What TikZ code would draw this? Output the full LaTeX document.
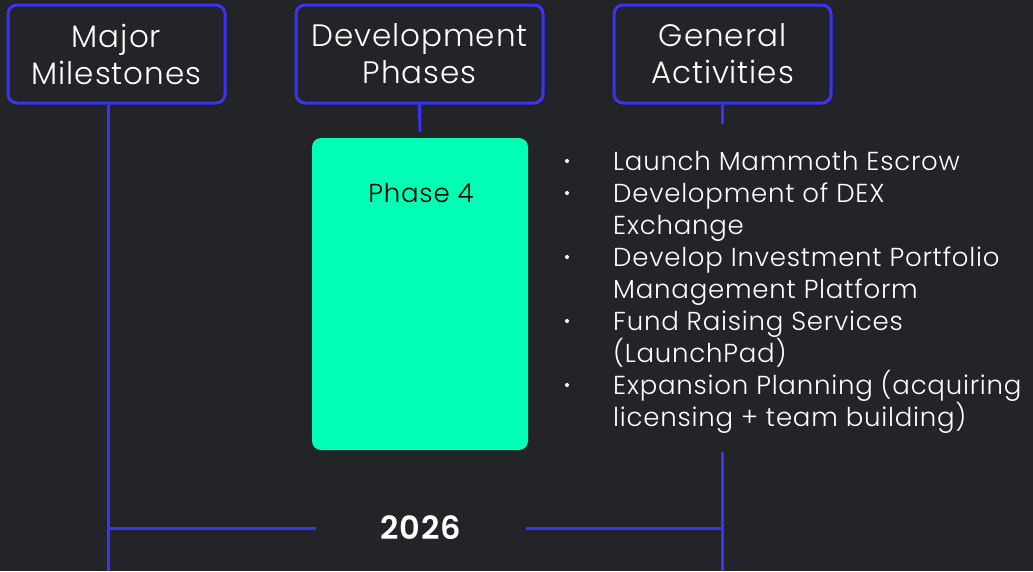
\documentclass[tikz,border=0pt]{standalone}
\usepackage{fontspec}
\setmainfont{Poppins}[UprightFont=* Light,BoldFont=* SemiBold,LetterSpace=3]
\usetikzlibrary{positioning}
\definecolor{bg}{HTML}{232427}
\definecolor{lineblue}{HTML}{3833F6}
\definecolor{mint}{HTML}{00FFB4}
\tikzset{
  head/.style={draw=lineblue,line width=3pt,rounded corners=9pt,fill=bg,text=white,
    align=center,font=\fontsize{31}{37}\selectfont,inner sep=0pt},
  link/.style={lineblue,line width=3pt},
  item/.style={text=white,anchor=base west,inner sep=0pt,font=\fontsize{26}{32}\selectfont}
}
\begin{document}
\begin{tikzpicture}[x=1pt,y=-1pt]
		\fill[bg] (0,0) rectangle (1033,571);
		\useasboundingbox (0,0) rectangle (1033,571);
		% column heads
		\node[head,minimum width=217pt,minimum height=98pt] (mile) at (116.5,54) {Major\\Milestones};
		\node[head,minimum width=247pt,minimum height=98pt] (dev) at (419.5,54) {Development\\Phases};
		\node[head,minimum width=217pt,minimum height=98pt] (gen) at (722.5,54) {General\\Activities};
		% phase block
		\node[fill=mint,rounded corners=9pt,minimum width=216pt,minimum height=312pt,inner sep=0pt] (ph4) at (420,294) {};
		\node[font=\fontsize{26}{30}\selectfont,text=black] (ph4lbl) at (421,193) {Phase 4};
		\node[text=white,font=\bfseries\fontsize{32}{36}\selectfont,minimum width=210pt,inner sep=0pt] (year) at (421,528) {2026};
		\coordinate (mbot) at (108,571);
		\coordinate (gbot) at (722,571);
		\coordinate (gtop) at (722,452);
		% connectors
		\draw[link] (mile.south -| mbot) -- (mbot);
		\draw[link] (dev.south) -- ([yshift=6pt]ph4.north);
		\draw[link] (gen.south -| gbot) -- ++(0,19);
		\draw[link] (gtop) -- (gbot);
		\draw[link] (year.west) -- (year.west -| mbot);
		\draw[link] (year.east) -- (year.east -| gbot);
		% activity list
		\foreach \t [count=\i] in {Launch Mammoth Escrow,Development of DEX,Exchange,
			Develop Investment Portfolio,Management Platform,Fund Raising Services,
			(LaunchPad),Expansion Planning (acquiring,licensing + team building)}
		\node[item] (act\i) at (613,138+32*\i) {\t};
		\foreach \i in {1,2,4,6,8}
		\fill[white] (567,129+32*\i) circle (2pt);
\end{tikzpicture}
\end{document}
